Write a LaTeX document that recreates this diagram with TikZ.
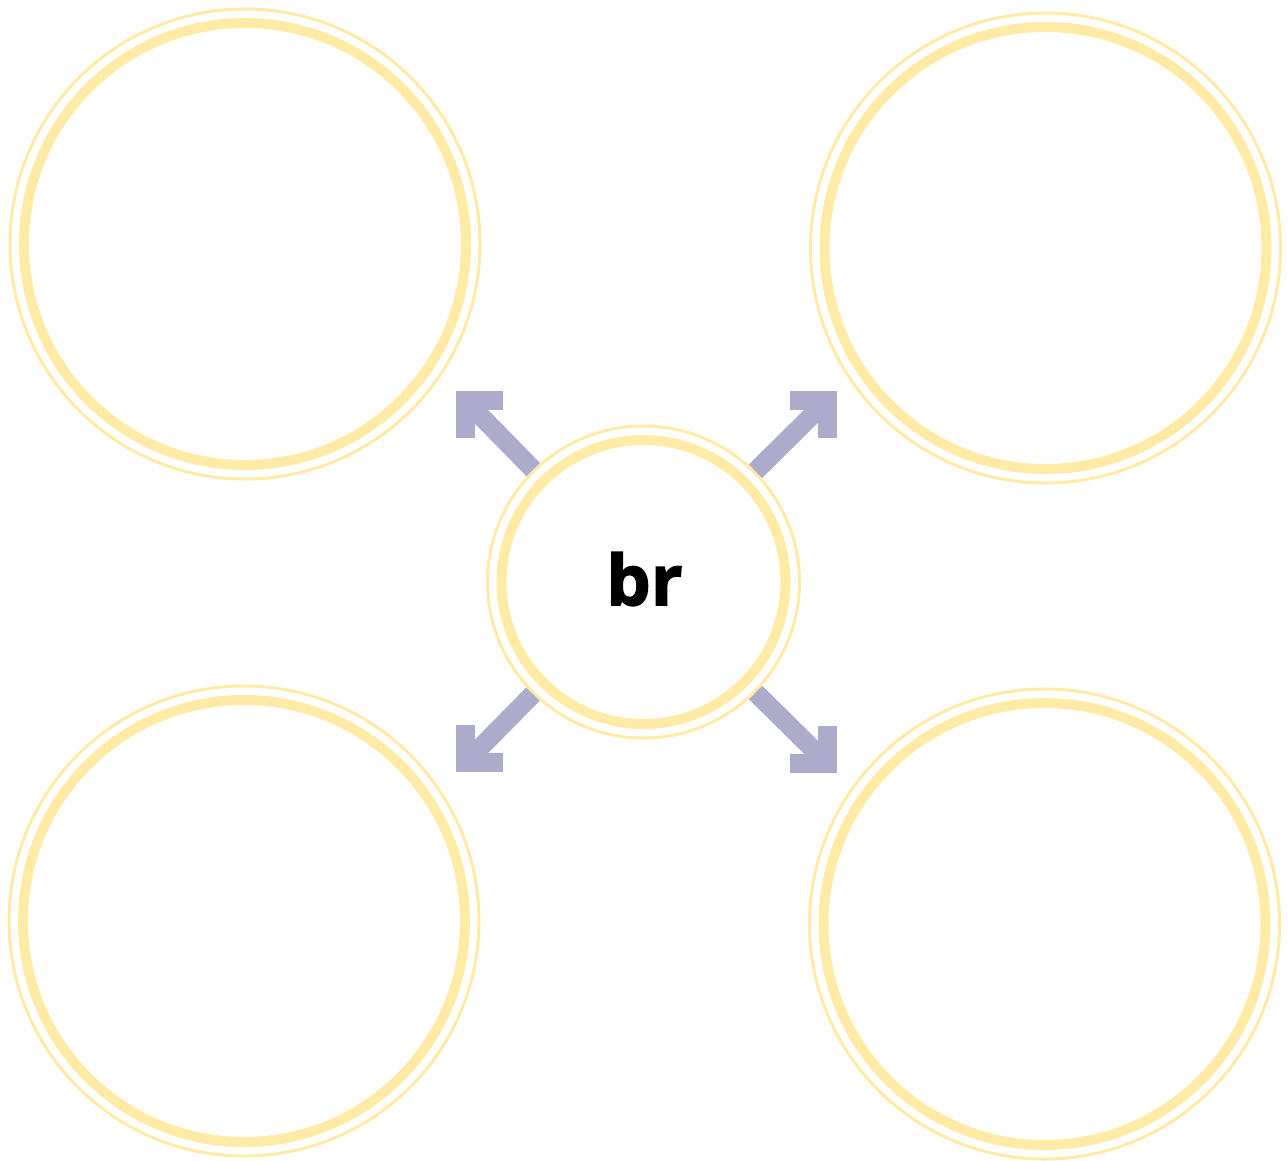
\documentclass[tikz,border=0pt]{standalone}
\usepackage{fontspec}
\setmainfont{Open Sans}
\newfontfamily\heavyfont{Open Sans}[BoldFont={* Bold},BoldFeatures={FakeBold=2}]
\definecolor{ring}{HTML}{FFEAA6}
\definecolor{arrowc}{HTML}{ACABCC}
\begin{document}
\begin{tikzpicture}[x=1pt,y=-1pt,
  bigc/.style={circle,draw=ring,line width=3pt,fill=white,minimum size=470pt,inner sep=0pt},
  midc/.style={circle,draw=ring,line width=3pt,fill=white,minimum size=312pt,inner sep=0pt},
  thickring/.style={draw=ring,line width=10pt},
  shaft/.style={draw=arrowc,line width=19pt},
  headc/.style={draw=arrowc,line width=19pt,line join=miter}]
\useasboundingbox[fill=white] (0,0) rectangle (1288,1160);

% outer circles
\node[bigc] (tl) at (245,244) {};
\draw[thickring] (tl.center) circle (221pt);
\node[bigc] (tr) at (1045.5,248) {};
\draw[thickring] (tr.center) circle (221pt);
\node[bigc] (bl) at (244,921) {};
\draw[thickring] (bl.center) circle (221pt);
\node[bigc] (br) at (1044.5,924) {};
\draw[thickring] (br.center) circle (221pt);

% centre circle
\node[midc] (c) at (643.5,582) {};
\draw[thickring] (c.center) circle (142pt);
\node[font=\heavyfont\fontsize{70}{80}\selectfont\bfseries, inner sep=0pt] (t) at (644.5,579) {br};

% arrow heads corners
\coordinate (hTL) at (465,400);
\coordinate (hTR) at (827.5,400);
\coordinate (hBL) at (465.5,762.5);
\coordinate (hBR) at (827.5,763.5);

\draw[shaft] (c) -- (hTL);
\draw[shaft] (c) -- (hTR);
\draw[shaft] (c) -- (hBL);
\draw[shaft] (c) -- (hBR);

\draw[headc] (503,400) -- (hTL) -- (465,438);
\draw[headc] (790,400) -- (hTR) -- (827.5,438);
\draw[headc] (465.5,725) -- (hBL) -- (503,762.5);
\draw[headc] (790,763.5) -- (hBR) -- (827.5,726);
\end{tikzpicture}
\end{document}
